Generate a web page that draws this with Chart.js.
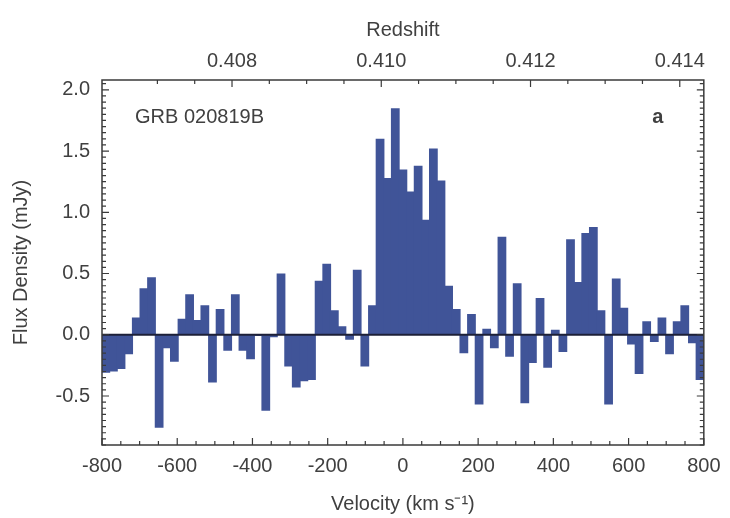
<!DOCTYPE html>
<html>
<head>
<meta charset="utf-8">
<script src="https://cdn.jsdelivr.net/npm/chart.js@4.4.0/dist/chart.umd.min.js"></script>
<style>
  html, body { margin: 0; padding: 0; background: #fff; }
  #wrap { width: 730px; height: 518px; }
</style>
</head>
<body>
<div id="wrap"><canvas id="spectrum" width="730" height="518"></canvas></div>
<script>
// flux density of each velocity bin, left to right (mJy)
const fluxDensity = [
    -0.31, -0.30, -0.28, -0.16, 0.14, 0.38, 0.47, -0.76, -0.11, -0.22,
    0.13, 0.33, 0.12, 0.24, -0.39, 0.21, -0.13, 0.33, -0.13, -0.20,
    -0.01, -0.62, -0.02, 0.50, -0.26, -0.43, -0.38, -0.37, 0.44, 0.58,
    0.20, 0.07, -0.04, 0.53, -0.26, 0.24, 1.60, 1.28, 1.85, 1.35,
    1.17, 1.38, 0.94, 1.52, 1.26, 0.40, 0.21, -0.15, 0.17, -0.57,
    0.05, -0.11, 0.80, -0.18, 0.42, -0.56, -0.23, 0.30, -0.27, 0.04,
    -0.14, 0.78, 0.43, 0.83, 0.88, 0.20, -0.57, 0.46, 0.22, -0.08,
    -0.32, 0.11, -0.06, 0.14, -0.16, 0.11, 0.24, -0.07, -0.37
];
const velocityRange = [-800, 800];   // km/s
const fluxRange = [-0.9, 2.08];      // mJy
const velocityLabels = [-800, -600, -400, -200, 0, 200, 400, 600, 800];
const fluxLabels = [-0.5, 0.0, 0.5, 1.0, 1.5, 2.0];
const redshiftLabels = [0.408, 0.410, 0.412, 0.414];
const systemicRedshift = 0.41029;
const lightSpeed = 299792.458;

document.addEventListener('DOMContentLoaded', () => {
    const canvas = document.getElementById('spectrum');

    // bins are equal width across the velocity window
    const binWidth = (velocityRange[1] - velocityRange[0]) / fluxDensity.length;
    const points = fluxDensity.map((f, i) => ({ x: velocityRange[0] + binWidth * (i + 0.5), y: f }));

    const toRedshift = v => systemicRedshift + (1 + systemicRedshift) * v / lightSpeed;

    const steps = (from, to, step, digits) => {
        const out = [];
        for (let k = 0; from + k * step <= to + 1e-9; k++) {
            out.push(+(from + k * step).toFixed(digits));
        }
        return out;
    };
    const isIn = (list, v) => list.some(t => Math.abs(t - v) < 1e-7);

    Chart.defaults.font.family = '"Liberation Sans", Arial, sans-serif';
    Chart.defaults.font.size = 20;
    Chart.defaults.color = '#404040';

    // frame, zero line, inward tick marks and the panel notes
    const framePlugin = {
        id: 'frame',
        afterDatasetsDraw(chart) {
            const { ctx, chartArea: a, scales } = chart;
            ctx.save();

            const y0 = scales.y.getPixelForValue(0);
            ctx.strokeStyle = '#1d2038';
            ctx.lineWidth = 2;
            ctx.beginPath();
            ctx.moveTo(a.left, y0);
            ctx.lineTo(a.right, y0);
            ctx.stroke();

            ctx.strokeStyle = '#3a3a3a';
            ctx.lineWidth = 1.5;
            ctx.strokeRect(a.left, a.top, a.right - a.left, a.bottom - a.top);

            ctx.lineWidth = 1.2;
            ctx.beginPath();
            scales.x.ticks.forEach(t => {
                const px = scales.x.getPixelForValue(t.value);
                const len = t.label ? 7 : 4;
                ctx.moveTo(px, a.bottom);
                ctx.lineTo(px, a.bottom - len);
            });
            scales.x2.ticks.forEach(t => {
                const px = scales.x2.getPixelForValue(t.value);
                const len = t.label ? 7 : 4;
                ctx.moveTo(px, a.top);
                ctx.lineTo(px, a.top + len);
            });
            scales.y.ticks.forEach(t => {
                const py = scales.y.getPixelForValue(t.value);
                const len = t.label ? 7 : 4;
                ctx.moveTo(a.left, py);
                ctx.lineTo(a.left + len, py);
                ctx.moveTo(a.right, py);
                ctx.lineTo(a.right - len, py);
            });
            ctx.stroke();

            ctx.fillStyle = '#404040';
            ctx.textBaseline = 'middle';
            ctx.font = '20px "Liberation Sans", Arial, sans-serif';
            ctx.textAlign = 'left';
            ctx.fillText('GRB 020819B', a.left + 33, a.top + 37);
            ctx.font = 'bold 20px "Liberation Sans", Arial, sans-serif';
            ctx.textAlign = 'center';
            ctx.fillText('a', a.right - 46, a.top + 37);
            ctx.restore();
        }
    };

    new Chart(canvas.getContext('2d'), {
        type: 'bar',
        data: {
            datasets: [{
                data: points,
                backgroundColor: 'rgb(64, 84, 152)',
                borderWidth: 0,
                barPercentage: 1.15,
                categoryPercentage: 1,
                xAxisID: 'x',
                yAxisID: 'y'
            }]
        },
        options: {
            responsive: false,
            animation: false,
            layout: { padding: { left: 0, right: 23, top: 0, bottom: 0 } },
            plugins: {
                legend: { display: false },
                tooltip: { enabled: false }
            },
            scales: {
                x: {
                    type: 'linear',
                    position: 'bottom',
                    min: velocityRange[0],
                    max: velocityRange[1],
                    offset: false,
                    grid: { display: false, drawTicks: false },
                    border: { display: false },
                    afterBuildTicks: s => { s.ticks = steps(-800, 800, 50, 0).map(v => ({ value: v })); },
                    afterFit: s => { s.height = 73; },
                    ticks: {
                        autoSkip: false,
                        maxRotation: 0,
                        padding: 9.5,
                        callback: v => isIn(velocityLabels, v) ? String(v) : ''
                    },
                    title: {
                        display: true,
                        text: 'Velocity (km s\u207B\u00B9)',
                        padding: { top: 0, bottom: 1.5 }
                    }
                },
                x2: {
                    type: 'linear',
                    position: 'top',
                    min: toRedshift(velocityRange[0]),
                    max: toRedshift(velocityRange[1]),
                    grid: { display: false, drawTicks: false },
                    border: { display: false },
                    afterBuildTicks: s => { s.ticks = steps(0.407, 0.414, 0.0005, 4).map(v => ({ value: v })); },
                    afterFit: s => { s.height = 80; },
                    ticks: {
                        autoSkip: false,
                        maxRotation: 0,
                        padding: 6.5,
                        callback: v => isIn(redshiftLabels, v) ? v.toFixed(3) : ''
                    },
                    title: {
                        display: true,
                        text: 'Redshift',
                        padding: { top: 18.5, bottom: 0 }
                    }
                },
                y: {
                    type: 'linear',
                    position: 'left',
                    min: fluxRange[0],
                    max: fluxRange[1],
                    grid: { display: false, drawTicks: false },
                    border: { display: false },
                    afterBuildTicks: s => { s.ticks = steps(-0.9, 2.05, 0.05, 2).map(v => ({ value: v })); },
                    afterFit: s => { s.width = 102; },
                    ticks: {
                        autoSkip: false,
                        padding: 12,
                        callback: v => isIn(fluxLabels, v) ? v.toFixed(1) : ''
                    },
                    title: {
                        display: true,
                        text: 'Flux Density (mJy)',
                        padding: { top: 9.5, bottom: 0 }
                    }
                }
            }
        },
        plugins: [framePlugin]
    });
});
</script>
</body>
</html>
